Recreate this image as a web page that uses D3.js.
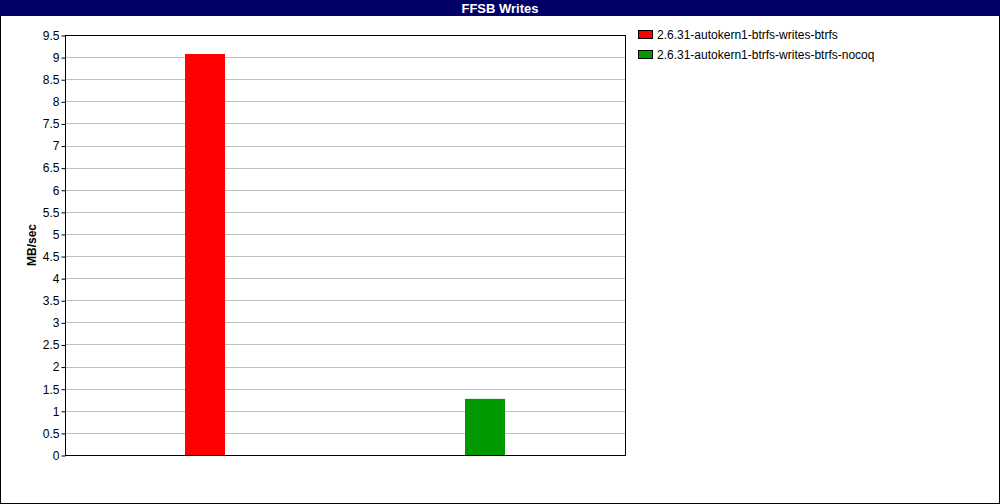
<!DOCTYPE html>
<html>
<head>
<meta charset="utf-8">
<script src="https://cdn.jsdelivr.net/npm/d3@7"></script>
<style>
  body { margin: 0; background: #fff; }
  svg text { font-family: "Liberation Sans", Arial, sans-serif; }
</style>
</head>
<body>
<div id="chart"></div>
<script>
const title = 'FFSB Writes';
const yLabel = 'MB/sec';
const series = ['2.6.31-autokern1-btrfs-writes-btrfs', '2.6.31-autokern1-btrfs-writes-btrfs-nocoq'];
const values = [9.07, 1.27];
const colors = ['#ff0000', '#009900'];
const yTicks = [0, 0.5, 1, 1.5, 2, 2.5, 3, 3.5, 4, 4.5, 5, 5.5, 6, 6.5, 7, 7.5, 8, 8.5, 9, 9.5];

const w = 1000,
  h = 504;
const margin = { left: 65, right: 375, top: 35, bottom: 49 };

const svg = d3
  .select('#chart')
  .append('svg')
  .attr('width', w)
  .attr('height', h);

// outer frame + title bar
svg.append('rect')
  .attr('x', 0.5).attr('y', 0.5)
  .attr('width', w - 1).attr('height', h - 1)
  .attr('fill', '#fff').attr('stroke', '#000');
svg.append('rect')
  .attr('x', 0).attr('y', 0)
  .attr('width', w).attr('height', 16)
  .attr('fill', '#000066');
svg.append('text')
  .attr('x', w / 2).attr('y', 12.5)
  .attr('text-anchor', 'middle')
  .attr('fill', '#fff')
  .style('font-size', '13px')
  .style('font-weight', 'bold')
  .text(title);

const x = d3.scaleBand()
  .domain(series)
  .range([margin.left, w - margin.right]);
const y = d3.scaleLinear()
  .domain([0, 9.5])
  .range([h - margin.bottom, margin.top]);

// gridlines
svg.append('g')
  .selectAll('line')
  .data(yTicks.filter((d) => d > 0 && d < 9.5))
  .join('line')
  .attr('x1', margin.left).attr('x2', w - margin.right)
  .attr('y1', (d) => Math.round(y(d)) + 0.5)
  .attr('y2', (d) => Math.round(y(d)) + 0.5)
  .attr('stroke', '#bfbfbf');

// bars
const barW = 40;
svg.append('g')
  .selectAll('rect')
  .data(series)
  .join('rect')
  .attr('x', (d) => x(d) + x.bandwidth() / 2 - barW / 2)
  .attr('y', (d, i) => y(values[i]))
  .attr('width', barW)
  .attr('height', (d, i) => y(0) - y(values[i]))
  .attr('fill', (d, i) => colors[i]);

// plot frame
svg.append('rect')
  .attr('x', margin.left + 0.5).attr('y', margin.top + 0.5)
  .attr('width', w - margin.right - margin.left)
  .attr('height', h - margin.bottom - margin.top)
  .attr('fill', 'none').attr('stroke', '#000');

// y axis
const yAxis = d3.axisLeft(y)
  .tickValues(yTicks)
  .tickSize(4)
  .tickFormat((d) => d3.format('')(d));
const ga = svg.append('g')
  .attr('transform', `translate(${margin.left + 0.5},0.5)`)
  .call(yAxis);
ga.select('.domain').remove();
ga.selectAll('text').style('font-size', '12px').attr('fill', '#000').attr('x', -6);

svg.append('text')
  .attr('transform', `translate(36,${(margin.top + h - margin.bottom) / 2}) rotate(-90)`)
  .attr('text-anchor', 'middle')
  .style('font-size', '12px')
  .style('font-weight', 'bold')
  .text(yLabel);

// legend
const lg = svg.append('g')
  .selectAll('g')
  .data(series)
  .join('g')
  .attr('transform', (d, i) => `translate(638,${30 + i * 20})`);
lg.append('rect')
  .attr('x', 0.5).attr('y', 0.5)
  .attr('width', 14).attr('height', 8)
  .attr('fill', (d, i) => colors[i])
  .attr('stroke', '#000');
lg.append('text')
  .attr('x', 19).attr('y', 9)
  .style('font-size', '12px')
  .text((d) => d);
</script>
</body>
</html>
